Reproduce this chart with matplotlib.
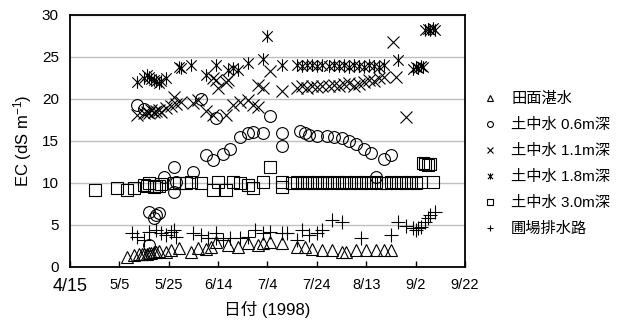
import datetime as dt
import matplotlib
matplotlib.use("Agg")
import matplotlib.pyplot as plt
from matplotlib.path import Path

plt.rcParams['font.family'] = ['Liberation Sans', 'Noto Sans CJK JP', 'DejaVu Sans']
plt.rcParams['mathtext.fontset'] = 'custom'
plt.rcParams['mathtext.rm'] = 'Liberation Sans'
plt.rcParams['mathtext.default'] = 'regular'

# ---------------- data (dates 1998, EC in dS/m) ----------------
tri_dates = ['5/8', '5/11', '5/13', '5/14', '5/15', '5/16', '5/17', '5/18', '5/19', '5/20', '5/21',
             '5/24', '5/26', '5/29', '6/3', '6/6', '6/9', '6/11', '6/13', '6/18', '6/22', '6/26',
             '6/30', '7/2', '7/5', '7/10', '7/16', '7/19', '7/22', '7/26', '7/30', '8/3', '8/5',
             '8/9', '8/13', '8/17', '8/20', '8/23']
tri_vals = [1.2, 1.4, 1.5, 1.5, 1.6, 1.6, 1.7, 1.7, 1.8, 1.8, 1.9,
            1.8, 2.0, 2.3, 1.8, 2.3, 2.2, 2.4, 3.0, 2.6, 2.4, 2.8,
            2.6, 2.8, 3.0, 2.8, 2.4, 2.4, 2.2, 2.0, 2.0, 1.8, 1.8,
            2.0, 2.0, 2.0, 2.0, 2.0]

c06_dates = ['5/12', '5/15', '5/17', '5/17', '5/19', '5/20', '5/21', '5/23', '5/27', '5/27', '5/28',
             '6/4', '6/7', '6/9', '6/12', '6/13', '6/16', '6/19', '6/23', '6/26', '6/28', '7/2',
             '7/5', '7/10', '7/10', '7/17', '7/19', '7/21', '7/24', '7/28', '7/31', '8/3', '8/6',
             '8/9', '8/12', '8/15', '8/17', '8/20', '8/23']
c06_vals = [19.3, 18.8, 2.6, 6.5, 5.8, 6.2, 6.4, 10.7, 11.9, 8.9, 10.1,
            11.3, 20.0, 13.3, 12.7, 17.7, 13.4, 14.1, 15.5, 16.0, 16.1, 16.0,
            18.0, 14.4, 16.0, 16.2, 15.9, 15.7, 15.6, 15.6, 15.5, 15.4, 15.0,
            14.6, 14.1, 13.6, 10.7, 12.8, 13.3]

c11_dates = ['5/12', '5/15', '5/16', '5/17', '5/18', '5/19', '5/20', '5/21', '5/22', '5/24', '5/26',
             '5/27', '5/28', '5/30', '6/4', '6/6', '6/9', '6/12', '6/12', '6/13', '6/14', '6/17',
             '6/17', '6/18', '6/20', '6/23', '6/26', '6/28', '6/30', '6/30', '7/2', '7/5', '7/10',
             '7/16', '7/18', '7/20', '7/22', '7/24', '7/26', '7/29', '7/31', '8/2', '8/4', '8/6',
             '8/8', '8/10', '8/12', '8/14', '8/16', '8/18', '8/20', '8/24', '8/25', '8/29']
c11_vals = [18.1, 18.3, 18.5, 18.3, 18.7, 18.4, 18.6, 18.7, 18.5, 18.9, 19.2,
            20.2, 19.4, 19.6, 19.5, 19.9, 18.6, 18.1, 22.5, 22.3, 21.3, 22.0,
            18.1, 22.3, 19.3, 19.7, 19.9, 19.3, 19.0, 21.7, 21.3, 23.3, 21.0,
            21.3, 21.5, 21.3, 21.6, 21.4, 21.5, 21.6, 21.7, 21.5, 21.8, 21.9,
            21.6, 21.8, 22.0, 22.3, 22.2, 22.5, 22.6, 26.8, 22.6, 17.9]

c18_dates = ['5/12', '5/15', '5/16', '5/17', '5/18', '5/19', '5/20', '5/21', '5/22', '5/24', '5/29',
             '5/30', '6/3', '6/9', '6/13', '6/18', '6/20', '6/22', '6/26', '7/2', '7/4', '7/10',
             '7/16', '7/18', '7/20', '7/22', '7/24', '7/26', '7/29', '7/31', '8/2', '8/4', '8/6',
             '8/8', '8/10', '8/12', '8/14', '8/16', '8/18', '8/20', '8/26', '9/1', '9/2', '9/3',
             '9/4', '9/5', '9/6', '9/7', '9/8', '9/9', '9/10']
c18_vals = [22.0, 22.5, 22.8, 22.6, 22.4, 22.3, 22.1, 21.9, 22.2, 22.5, 23.8,
            23.7, 24.0, 22.8, 24.0, 23.5, 23.7, 23.5, 24.3, 24.8, 27.5, 24.0,
            24.0, 23.9, 24.0, 24.0, 23.9, 24.0, 23.9, 24.0, 23.9, 24.0, 23.8,
            24.0, 23.9, 23.8, 24.0, 23.9, 23.8, 24.0, 24.6, 23.6, 23.8, 23.7,
            23.9, 23.8, 28.2, 28.3, 28.2, 28.4, 28.2]

c30_dates = ['4/25', '5/4', '5/8', '5/11', '5/15', '5/16', '5/17', '5/19', '5/20', '5/21', '5/22',
             '5/27', '5/29', '6/1', '6/3', '6/7', '6/12', '6/14', '6/17', '6/20', '6/23', '6/26',
             '6/28', '7/2', '7/5', '7/10', '7/10', '7/14', '7/16', '7/18', '7/20', '7/22', '7/24',
             '7/26', '7/28', '7/30', '8/1', '8/3', '8/5', '8/7', '8/9', '8/11', '8/13', '8/15',
             '8/17', '8/19', '8/21', '8/23', '8/25', '8/27', '8/29', '8/31', '9/2', '9/4', '9/5',
             '9/6', '9/7', '9/8', '9/9']
c30_vals = [9.2, 9.4, 9.2, 9.4, 9.8, 9.6, 10.0, 9.5, 9.7, 9.6, 9.9,
            10.0, 10.0, 10.0, 10.1, 10.0, 9.2, 10.1, 9.2, 10.1, 10.0, 9.8,
            9.4, 10.1, 11.9, 10.1, 9.5, 10.0, 10.1, 10.0, 10.1, 10.0, 10.1,
            10.0, 10.1, 10.0, 10.1, 10.0, 10.1, 10.0, 10.1, 10.0, 10.1, 10.0,
            10.1, 10.0, 10.0, 10.1, 10.0, 10.1, 10.0, 10.1, 10.0, 10.1, 12.4,
            12.3, 12.2, 12.3, 10.1]

drain_dates = ['5/10', '5/12', '5/15', '5/17', '5/20', '5/22', '5/24', '5/26', '5/27', '5/28', '6/4',
               '6/7', '6/10', '6/13', '6/13', '6/16', '6/19', '6/23', '6/26', '6/29', '7/2', '7/5',
               '7/10', '7/12', '7/16', '7/18', '7/21', '7/24', '7/26', '7/30', '8/3', '8/11', '8/23',
               '8/26', '8/29', '9/1', '9/2', '9/3', '9/4', '9/6', '9/7', '9/8', '9/10']
drain_vals = [4.0, 3.6, 3.2, 4.2, 4.4, 4.0, 3.8, 4.2, 4.4, 3.6, 4.0,
              3.8, 3.5, 3.5, 4.0, 3.2, 3.5, 3.5, 3.6, 4.4, 4.0, 4.2,
              4.0, 4.0, 3.2, 4.4, 3.8, 4.0, 4.4, 5.6, 5.3, 3.5, 3.8,
              5.3, 4.9, 4.6, 4.4, 4.6, 4.8, 5.4, 5.8, 6.2, 6.6]

series_labels = ['田面湛水', '土中水 0.6m深', '土中水 1.1m深', '土中水 1.8m深', '土中水 3.0m深', '圃場排水路']
tick_labels = ['4/15', '5/5', '5/25', '6/14', '7/4', '7/24', '8/13', '9/2', '9/22']
y_ticks = [0, 5, 10, 15, 20, 25, 30]


def to_date(s):
    m, d = s.split('/')
    return dt.date(1998, int(m), int(d))


# asterisk marker: X with a vertical bar
ast = Path([(-1, -1), (1, 1), (-1, 1), (1, -1), (0, -1.2), (0, 1.2)],
           [Path.MOVETO, Path.LINETO, Path.MOVETO, Path.LINETO, Path.MOVETO, Path.LINETO])

fig = plt.figure(figsize=(6.29, 3.27), dpi=100)
ax = fig.add_axes([70 / 629, 60 / 327, 395 / 629, 252 / 327])

series = [
    (tri_dates, tri_vals, '^', 9, True),
    (c06_dates, c06_vals, 'o', 8.5, True),
    (c11_dates, c11_vals, 'x', 8.5, False),
    (c18_dates, c18_vals, ast, 9, False),
    (c30_dates, c30_vals, 's', 8.5, True),
    (drain_dates, drain_vals, '+', 9.5, False),
]
handles = []
for (ds, vs, mk, ms, hollow), lab in zip(series, series_labels):
    kw = dict(markerfacecolor='none') if hollow else {}
    h, = ax.plot([to_date(s) for s in ds], vs, linestyle='none', marker=mk, markersize=ms,
                 markeredgecolor='black', markeredgewidth=0.8, color='black', label=lab, zorder=3, **kw)
    handles.append(h)

ax.set_xlim(to_date('4/15'), to_date('9/22'))
ax.set_ylim(0, 30)
ax.set_yticks(y_ticks)
ax.set_xticks([to_date(s) for s in tick_labels])
ax.set_xticklabels(tick_labels)
for i, t in enumerate(ax.get_xticklabels()):
    t.set_fontsize(13 if i == 0 else 10.5)

ax.tick_params(axis='x', direction='in', length=4, width=1, pad=8)
ax.tick_params(axis='y', length=0, pad=8, labelsize=11)
ax.grid(axis='y', color='#c0c0c0', linewidth=1)
ax.set_axisbelow(True)
for sp in ax.spines.values():
    sp.set_linewidth(1.3)
    sp.set_color('black')

ax.set_xlabel('日付 (1998)', fontsize=12, labelpad=4)
ax.set_ylabel('EC (dS m$^{-1}$)', fontsize=12, labelpad=6)

fig.legend(handles=handles, loc='upper left', bbox_to_anchor=(476 / 629, 1 - 86 / 327),
           frameon=False, fontsize=11, markerscale=0.5, handlelength=1.0, handletextpad=0.9,
           labelspacing=0.78, borderaxespad=0)

fig.savefig('out.png', dpi=100)
